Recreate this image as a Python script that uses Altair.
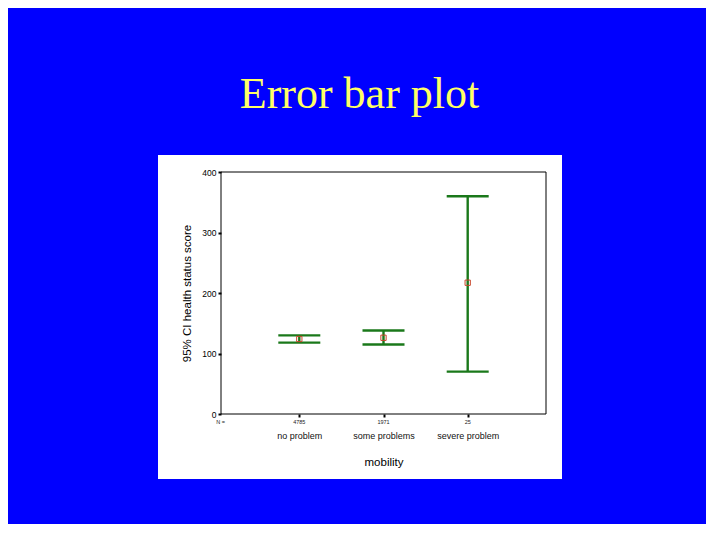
import altair as alt
import pandas as pd

# ---- data ----
categories = ["no problem", "some problems", "severe problem"]
n_values = ["4785", "1971", "25"]
means = [124, 126, 217]
lower = [118, 115, 70]
upper = [130, 138, 360]
y_ticks = [0, 100, 200, 300, 400]

df = pd.DataFrame({
    "mobility": categories,
    "n": n_values,
    "mean": means,
    "lower": lower,
    "upper": upper,
})

W, H = 325, 242
GREEN = "#1a781a"
RED = "#c8452a"
FONT = "Liberation Sans"

x_enc = alt.X(
    "mobility:N",
    sort=categories,
    scale=alt.Scale(type="point", padding=0.93),
    axis=alt.Axis(
        title="mobility",
        titleFont=FONT,
        titleFontSize=11.5,
        titleFontWeight="normal",
        titleColor="black",
        titlePadding=16,
        labelFont=FONT,
        labelFontSize=9,
        labelColor="#111111",
        labelAngle=0,
        labelPadding=14,
        tickColor="black",
        tickSize=3,
        tickWidth=2,
        domain=False,
        grid=False,
        zindex=1,
    ),
)

y_scale = alt.Scale(domain=[0, 400], nice=False)

y_enc = alt.Y(
    "lower:Q",
    scale=y_scale,
    axis=alt.Axis(
        values=y_ticks,
        title="95% CI health status score",
        titleFont=FONT,
        titleFontSize=11.5,
        titleFontWeight="normal",
        titleColor="black",
        titlePadding=9,
        labelFont=FONT,
        labelFontSize=8.5,
        labelColor="black",
        labelPadding=2,
        tickColor="black",
        tickSize=3,
        tickWidth=2,
        domain=False,
        grid=False,
        zindex=1,
    ),
)

# white slide panel behind the plot (decoration)
panel = alt.Chart(pd.DataFrame({"p": [0]})).mark_rect(color="white").encode(
    x=alt.value(-63), x2=alt.value(341), y=alt.value(-17), y2=alt.value(307)
)

frame = alt.Chart(pd.DataFrame({"p": [0]})).mark_rect(
    fillOpacity=0, stroke="black", strokeWidth=1
).encode(x=alt.value(0), x2=alt.value(W), y=alt.value(0), y2=alt.value(H))

base = alt.Chart(df)

rules = base.mark_rule(color=GREEN, strokeWidth=2.4, opacity=1).encode(
    x=x_enc, y=y_enc, y2="upper:Q"
)
cap_hi = base.mark_tick(color=GREEN, size=42, thickness=2.4, opacity=1).encode(
    x=x_enc, y=alt.Y("upper:Q", scale=y_scale)
)
cap_lo = base.mark_tick(color=GREEN, size=42, thickness=2.4, opacity=1).encode(
    x=x_enc, y=alt.Y("lower:Q", scale=y_scale)
)
mean_pt = base.mark_point(
    shape="square", filled=False, color=RED, size=28, strokeWidth=1, opacity=1
).encode(x=x_enc, y=alt.Y("mean:Q", scale=y_scale))

n_text = base.mark_text(
    font=FONT, fontSize=5.5, color="#222222", baseline="middle"
).encode(x=x_enc, y=alt.value(H + 8), text="n:N")

n_label = alt.Chart(pd.DataFrame({"label": ["N ="]})).mark_text(
    font=FONT, fontSize=5.5, color="#222222", baseline="middle", align="center"
).encode(x=alt.value(-0.5), y=alt.value(H + 8), text="label:N")

chart = alt.layer(
    panel, frame, rules, cap_hi, cap_lo, mean_pt, n_text, n_label
).properties(
    width=W,
    height=H,
    background="#0000FF",
    padding={"left": 213, "top": 164, "right": 160, "bottom": 110},
    autosize=alt.AutoSizeParams(type="none"),
    title=alt.TitleParams(
        text="Error bar plot",
        font="Liberation Serif",
        fontSize=44,
        fontWeight="normal",
        color="#FFFF66",
        anchor="middle",
        frame="group",
        dx=-24,
        offset=38,
    ),
).configure_view(stroke=None)

chart.save("out.html", embed_options={"renderer": "svg", "actions": False})
